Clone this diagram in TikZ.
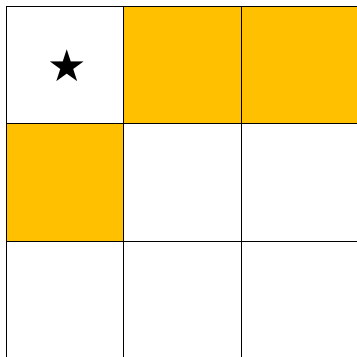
\documentclass[tikz,border=0pt]{standalone}
\usepackage{fontspec}
\newfontfamily\symfont{DejaVu Sans}
\definecolor{gold}{HTML}{FFC000}
\begin{document}
\begin{tikzpicture}[x=1pt,y=-1pt,
  cell/.style={draw=black,line width=1pt,minimum width=117.3pt,minimum height=117.3pt,inner sep=0pt,outer sep=0pt,anchor=north west},
  filled/.style={cell,fill=gold}]
\useasboundingbox (0,0) rectangle (357,357);
\node[cell] (c00) at (6.5,6.5) {};
\node[filled] (c01) at (123.8,6.5) {};
\node[filled] (c02) at (241.1,6.5) {};
\node[filled] (c10) at (6.5,123.8) {};
\node[cell] (c11) at (123.8,123.8) {};
\node[cell] (c12) at (241.1,123.8) {};
\node[cell] (c20) at (6.5,241.1) {};
\node[cell] (c21) at (123.8,241.1) {};
\node[cell] (c22) at (241.1,241.1) {};
\node (star) at ([xshift=2.5pt,yshift=-1pt]c00.center) {\symfont\fontsize{44}{44}\selectfont ★};
\end{tikzpicture}
\end{document}
